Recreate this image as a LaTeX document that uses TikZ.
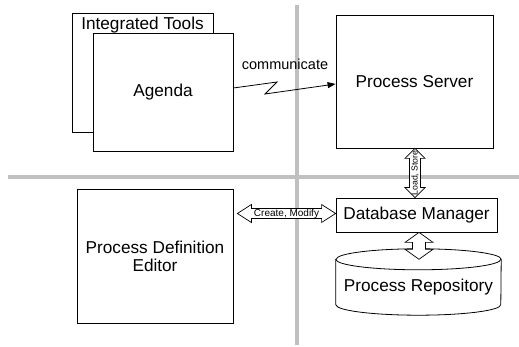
\documentclass[tikz,border=0pt]{standalone}
\usepackage{fontspec}
\setmainfont{Liberation Sans}
\usetikzlibrary{arrows.meta,calc}
\definecolor{sepgray}{RGB}{192,192,192}
\newcommand\bigfont{\fontsize{17.2}{18}\selectfont}
% vertical double block arrow: #1 top tip, #2 bottom tip, #3 head length, #4 head half width, #5 shaft half width
\newcommand\vdblarrow[5]{%
  \path[fatarrow] (#1) -- ([shift={(#4,-#3)}]#1) -- ([shift={(#5,-#3)}]#1) -- ([shift={(#5,#3)}]#2) -- ([shift={(#4,#3)}]#2) -- (#2) -- ([shift={(-#4,#3)}]#2) -- ([shift={(-#5,#3)}]#2) -- ([shift={(-#5,-#3)}]#1) -- ([shift={(-#4,-#3)}]#1) -- cycle;}
% horizontal double block arrow: #1 left tip, #2 right tip
\newcommand\hdblarrow[5]{%
  \path[fatarrow] (#1) -- ([shift={(#3,#4)}]#1) -- ([shift={(#3,#5)}]#1) -- ([shift={(-#3,#5)}]#2) -- ([shift={(-#3,#4)}]#2) -- (#2) -- ([shift={(-#3,-#4)}]#2) -- ([shift={(-#3,-#5)}]#2) -- ([shift={(#3,-#5)}]#1) -- ([shift={(#3,-#4)}]#1) -- cycle;}
\begin{document}
\begin{tikzpicture}[x=1pt,y=1pt,
  box/.style={draw=black,line width=0.8pt,fill=white,inner sep=0pt},
  lbl/.style={font=\bigfont,inner sep=0pt},
  sep/.style={draw=sepgray,line width=3.5pt},
  fatarrow/.style={draw=black,line width=0.7pt,fill=white,line join=miter}]
\useasboundingbox (0,0) rectangle (519,347);
% separators
\coordinate (hL) at (8,170); \coordinate (hR) at (519,170);
\coordinate (vT) at (297,342); \coordinate (vB) at (297,2);
\draw[sep] (hL) -- (hR);
\draw[sep] (vT) -- (vB);
% boxes
\node[box,minimum width=141,minimum height=119] (tools) at (142.5,274.5) {};
\node[lbl,anchor=base] (toolstext) at (142.5,317) {Integrated Tools};
\node[box,lbl,minimum width=140,minimum height=118] (agenda) at (163,255) {Agenda};
\node[box,lbl,minimum width=157,minimum height=133] (ps) at (414.5,265.5) {Process Server};
\node[box,lbl,minimum width=161,minimum height=34] (db) at (416.5,132) {Database Manager};
\node[box,lbl,minimum width=156,minimum height=134,align=center] (pde) at (155,91) {Process Definition\\Editor};
% repository cylinder
\node[inner sep=0pt,minimum width=165,minimum height=66] (repo) at (418.5,65) {};
\path[draw=black,line width=0.8pt,fill=white]
  ([yshift=-10.5]repo.north west) -- ([yshift=10.5]repo.south west)
  arc[start angle=180,end angle=360,x radius=82.5,y radius=10.5]
  -- ([yshift=-10.5]repo.north east)
  arc[start angle=0,end angle=180,x radius=82.5,y radius=10.5] -- cycle;
\draw[line width=0.8pt] ([yshift=-10.5]repo.north west)
  arc[start angle=180,end angle=360,x radius=82.5,y radius=10.5];
\node[lbl,anchor=base] (repotext) at (418.5,55) {Process Repository};
% communicate (lightning arrow)
\coordinate (z1) at (277,265);
\coordinate (z2) at (265,253);
\draw[line width=0.8pt,-{Triangle[length=8pt,width=6pt]}]
  ([yshift=4]agenda.east) -- (z1) -- (z2) -- ([yshift=-2.5]ps.west);
\node[font=\fontsize{14.5}{16}\selectfont,inner sep=0pt,anchor=base] (comm) at (285,277) {communicate};
% Load, Store
\coordinate (lsT) at ([xshift=0.5]ps.south);
\coordinate (lsB) at (lsT |- db.north);
\vdblarrow{lsT}{lsB}{10}{10}{5.5}
\node[font=\fontsize{8.7}{9}\selectfont,rotate=90,inner sep=0pt] (lstext) at ($(lsT)!0.5!(lsB)$) {Load, Store};
% Create, Modify
\coordinate (cmR) at ([yshift=1.5]db.west);
\coordinate (cmL) at ([xshift=4]pde.east |- cmR);
\hdblarrow{cmL}{cmR}{14}{9}{5}
\node[font=\fontsize{10}{11}\selectfont,inner sep=0pt] (cmtext) at ($(cmL)!0.5!(cmR)$) {Create, Modify};
% DB <-> repository
\coordinate (drT) at ([xshift=2.5]db.south);
\coordinate (repotop) at ([yshift=-10.5]repo.north);
\coordinate (drB) at (drT |- repotop);
\vdblarrow{drT}{drB}{10}{14}{6.5}
\end{tikzpicture}
\end{document}
